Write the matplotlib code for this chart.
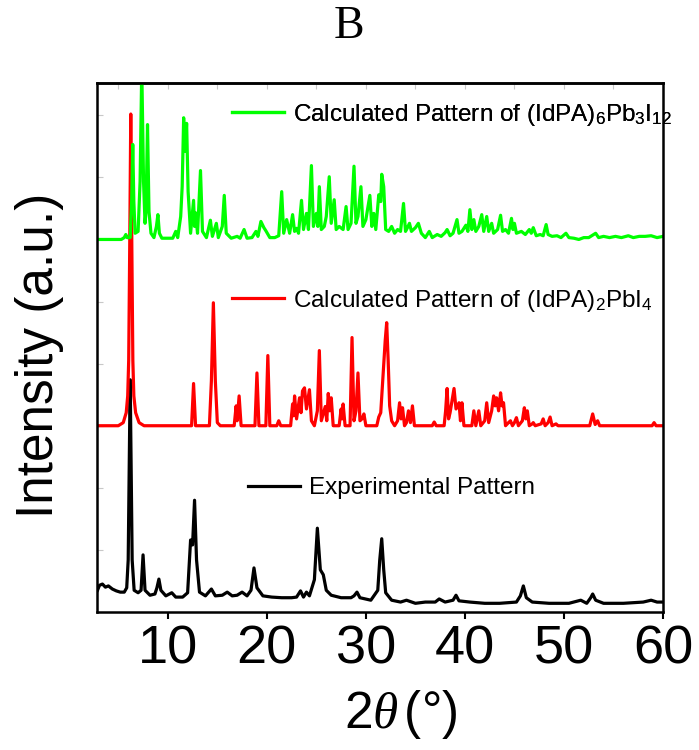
import numpy as np
import matplotlib
matplotlib.use("Agg")
import matplotlib.pyplot as plt
from matplotlib.lines import Line2D

plt.rcParams['font.family'] = ['Liberation Sans', 'DejaVu Sans']
plt.rcParams['mathtext.fontset'] = 'custom'
plt.rcParams['mathtext.rm'] = 'Liberation Sans'
plt.rcParams['mathtext.it'] = 'Liberation Serif:italic'

# ---------------- data (2theta in degrees, intensity in a.u., offsets included) -----------
black = [(2.9, 0.35), (3.1, 0.43), (3.4, 0.45), (3.7, 0.40), (4.0, 0.42), (4.4, 0.37), (4.8, 0.34),
         (5.2, 0.32), (5.6, 0.32), (5.85, 0.39), (6.0, 0.84), (6.1, 2.29), (6.2, 3.74), (6.3, 2.29),
         (6.4, 0.84), (6.6, 0.35), (7.0, 0.31), (7.3, 0.35), (7.5, 0.92), (7.7, 0.35), (8.2, 0.27),
         (8.7, 0.29), (8.9, 0.39), (9.1, 0.53), (9.3, 0.35), (9.8, 0.26), (10.4, 0.31), (10.8, 0.24),
         (11.5, 0.24), (12.0, 0.31), (12.3, 1.16), (12.5, 1.08), (12.7, 1.80), (12.9, 0.84), (13.2, 0.32),
         (13.8, 0.26), (14.4, 0.37), (14.8, 0.26), (15.5, 0.27), (16.0, 0.32), (16.5, 0.26), (17.0, 0.27),
         (17.5, 0.32), (18.0, 0.26), (18.4, 0.35), (18.7, 0.71), (19.0, 0.39), (19.6, 0.26), (20.5, 0.24),
         (21.5, 0.23), (22.5, 0.23), (23.0, 0.24), (23.4, 0.34), (23.7, 0.24), (24.0, 0.32), (24.3, 0.26),
         (24.8, 0.52), (25.1, 1.35), (25.4, 0.68), (25.7, 0.60), (26.0, 0.35), (26.5, 0.27), (27.5, 0.23),
         (28.5, 0.23), (28.8, 0.26), (29.1, 0.32), (29.4, 0.23), (30.5, 0.19), (31.2, 0.35), (31.4, 0.84),
         (31.6, 1.18), (31.8, 0.68), (32.0, 0.31), (32.6, 0.19), (33.5, 0.16), (34.1, 0.19), (35.0, 0.14),
         (36.0, 0.16), (37.0, 0.16), (37.4, 0.21), (38.0, 0.16), (38.8, 0.19), (39.1, 0.27), (39.4, 0.18),
         (40.5, 0.16), (42.0, 0.14), (43.5, 0.14), (45.2, 0.16), (45.6, 0.26), (45.9, 0.42), (46.2, 0.23),
         (46.8, 0.16), (48.5, 0.14), (50.5, 0.14), (51.7, 0.19), (52.3, 0.14), (52.7, 0.23), (52.9, 0.29),
         (53.2, 0.19), (54.0, 0.14), (56.0, 0.14), (58.0, 0.16), (58.8, 0.19), (59.4, 0.16), (60.0, 0.16)]

red = [(2.9, 3.00), (5.0, 3.00), (5.5, 3.05), (5.8, 3.21), (5.95, 3.48), (6.05, 4.05), (6.15, 5.82),
       (6.26, 8.02), (6.37, 5.82), (6.47, 4.05), (6.57, 3.48), (6.75, 3.21), (7.1, 3.05), (7.6, 3.00),
       (12.4, 3.00), (12.6, 3.68), (12.8, 3.00), (14.2, 3.00), (14.4, 3.72), (14.6, 4.98), (14.8, 3.72),
       (15.0, 3.05), (15.3, 3.00), (16.7, 3.00), (16.9, 3.32), (17.0, 3.08), (17.2, 3.48), (17.4, 3.00),
       (18.8, 3.00), (19.0, 3.85), (19.2, 3.00), (19.9, 3.00), (20.1, 4.13), (20.3, 3.00), (21.0, 3.00),
       (21.2, 3.08), (21.4, 3.00), (22.4, 3.00), (22.6, 3.35), (22.7, 3.16), (22.8, 3.48), (23.0, 3.11),
       (23.3, 3.45), (23.45, 3.21), (23.6, 3.56), (23.8, 3.61), (24.0, 3.27), (24.3, 3.58), (24.5, 3.08),
       (24.8, 3.00), (25.1, 3.24), (25.3, 4.21), (25.5, 3.08), (25.9, 3.31), (26.05, 3.08), (26.2, 3.52),
       (26.35, 3.24), (26.5, 3.45), (26.7, 3.00), (27.3, 3.00), (27.5, 3.27), (27.6, 3.11), (27.7, 3.35),
       (27.9, 3.00), (28.4, 3.00), (28.6, 4.42), (28.8, 3.08), (29.0, 3.24), (29.2, 3.85), (29.4, 3.08),
       (29.6, 3.11), (29.8, 3.19), (30.0, 3.00), (31.1, 3.00), (31.3, 3.14), (31.5, 3.21), (31.7, 3.72),
       (31.8, 3.97), (31.95, 4.37), (32.1, 4.66), (32.25, 4.05), (32.4, 3.32), (32.6, 3.08), (32.9, 3.00),
       (33.2, 3.08), (33.4, 3.37), (33.55, 3.11), (33.7, 3.29), (33.9, 3.00), (34.1, 3.05), (34.3, 3.24),
       (34.5, 3.05), (34.7, 3.32), (34.9, 3.00), (36.7, 3.00), (36.9, 3.06), (37.1, 3.00), (37.9, 3.00),
       (38.05, 3.24), (38.2, 3.60), (38.35, 3.11), (38.5, 3.21), (38.7, 3.40), (38.9, 3.60), (39.1, 3.27),
       (39.4, 3.37), (39.55, 3.08), (39.7, 3.37), (39.9, 3.00), (40.7, 3.00), (40.9, 3.24), (41.1, 3.00),
       (41.2, 3.08), (41.4, 3.24), (41.6, 3.00), (42.0, 3.08), (42.2, 3.37), (42.4, 3.05), (42.7, 3.24),
       (42.9, 3.48), (43.05, 3.32), (43.2, 3.45), (43.4, 3.24), (43.6, 3.53), (43.75, 3.32), (43.9, 3.37),
       (44.1, 3.00), (44.4, 3.05), (44.6, 3.08), (44.8, 3.00), (45.0, 3.05), (45.2, 3.13), (45.4, 3.00),
       (45.8, 3.08), (46.0, 3.29), (46.15, 3.11), (46.3, 3.24), (46.5, 3.00), (46.8, 3.03), (46.9, 3.05),
       (47.1, 3.00), (47.7, 3.03), (47.9, 3.11), (48.1, 3.00), (48.4, 3.05), (48.6, 3.14), (48.8, 3.00),
       (49.2, 3.03), (49.4, 3.00), (52.6, 3.00), (52.9, 3.19), (53.15, 3.02), (53.4, 3.08), (53.6, 3.00),
       (58.9, 3.00), (59.1, 3.05), (59.3, 3.00), (60.0, 3.00)]

green = [(2.9, 6.00), (5.3, 6.00), (5.6, 6.03), (5.76, 6.08), (5.9, 6.03), (6.2, 6.03), (6.35, 6.61),
         (6.46, 7.53), (6.57, 6.61), (6.7, 6.10), (7.0, 6.13), (7.2, 6.93), (7.37, 8.77), (7.55, 6.93),
         (7.7, 6.26), (7.8, 6.45), (7.95, 7.85), (8.1, 6.45), (8.3, 6.10), (8.6, 6.03), (8.85, 6.21),
         (9.0, 6.40), (9.15, 6.10), (9.4, 6.02), (10.5, 6.02), (10.8, 6.13), (11.0, 6.03), (11.3, 6.37),
         (11.45, 6.85), (11.6, 7.96), (11.75, 7.42), (11.9, 7.87), (12.05, 6.77), (12.3, 6.10), (12.6, 6.63),
         (12.7, 6.21), (12.8, 6.43), (13.0, 6.10), (13.3, 7.11), (13.5, 6.13), (13.9, 6.03), (14.3, 6.31),
         (14.5, 6.05), (14.9, 6.26), (15.1, 6.03), (15.5, 6.21), (15.7, 6.71), (15.9, 6.10), (16.4, 6.02),
         (17.0, 6.05), (17.3, 6.02), (17.7, 6.16), (18.0, 6.02), (18.5, 6.03), (18.9, 6.13), (19.1, 6.05),
         (19.4, 6.29), (19.7, 6.19), (19.9, 6.14), (20.3, 6.03), (20.8, 6.03), (21.2, 6.06), (21.5, 6.77),
         (21.7, 6.10), (22.0, 6.32), (22.3, 6.10), (22.6, 6.40), (22.8, 6.13), (23.0, 6.18), (23.2, 6.10),
         (23.5, 6.63), (23.7, 6.16), (24.0, 6.42), (24.2, 6.16), (24.5, 7.19), (24.7, 6.21), (25.0, 6.42),
         (25.15, 6.21), (25.3, 6.85), (25.5, 6.16), (25.8, 6.21), (26.0, 6.37), (26.3, 7.01), (26.5, 6.26),
         (26.8, 6.64), (27.0, 6.16), (27.3, 6.21), (27.7, 6.16), (28.0, 6.53), (28.2, 6.16), (28.5, 6.26),
         (28.8, 7.18), (29.0, 6.26), (29.2, 6.37), (29.5, 6.85), (29.7, 6.21), (30.0, 6.32), (30.4, 6.71),
         (30.6, 6.21), (30.8, 6.42), (31.0, 6.16), (31.3, 6.72), (31.5, 6.61), (31.6, 7.05), (31.8, 6.85),
         (32.0, 6.16), (32.3, 6.13), (32.6, 6.21), (32.9, 6.10), (33.2, 6.16), (33.5, 6.13), (33.8, 6.58),
         (34.0, 6.13), (34.2, 6.19), (34.4, 6.26), (34.6, 6.13), (35.0, 6.19), (35.3, 6.26), (35.6, 6.10),
         (36.0, 6.03), (36.4, 6.13), (36.7, 6.03), (37.2, 6.08), (37.6, 6.05), (38.0, 6.11), (38.2, 6.16),
         (38.5, 6.06), (38.8, 6.10), (39.2, 6.32), (39.4, 6.10), (39.7, 6.13), (40.1, 6.23), (40.3, 6.13),
         (40.5, 6.48), (40.7, 6.16), (40.9, 6.32), (41.1, 6.13), (41.4, 6.21), (41.7, 6.40), (41.9, 6.13),
         (42.2, 6.37), (42.4, 6.13), (42.7, 6.26), (42.9, 6.10), (43.3, 6.16), (43.6, 6.39), (43.8, 6.13),
         (44.1, 6.16), (44.4, 6.10), (44.7, 6.34), (44.85, 6.16), (45.0, 6.26), (45.2, 6.10), (45.7, 6.13),
         (46.1, 6.08), (46.5, 6.16), (46.7, 6.10), (46.9, 6.19), (47.2, 6.06), (47.6, 6.08), (47.9, 6.06),
         (48.2, 6.24), (48.4, 6.08), (48.8, 6.05), (49.3, 6.06), (49.7, 6.03), (50.2, 6.10), (50.5, 6.03),
         (51.0, 6.02), (51.5, 6.00), (52.0, 6.03), (52.5, 6.03), (53.2, 6.10), (53.5, 6.03), (54.0, 6.05),
         (54.6, 6.03), (55.2, 6.05), (55.8, 6.03), (56.5, 6.06), (57.0, 6.03), (57.6, 6.05), (58.2, 6.05),
         (58.8, 6.06), (59.4, 6.03), (60.0, 6.05)]

labels = ['Experimental Pattern',
          r'Calculated Pattern of (IdPA)$_2$PbI$_4$',
          r'Calculated Pattern of (IdPA)$_6$Pb$_3$I$_{12}$']
colors = ['#000000', '#ff0000', '#00ff00']
xticks = [10, 20, 30, 40, 50, 60]

# ---------------- figure ----------------
fig = plt.figure(figsize=(6.99, 7.5), dpi=100)
ax = fig.add_axes([97/699, 1 - 612/750, 566/699, 529/750])

series = [black, red, green]
for pts, c in zip(series, colors):
    arr = np.array(pts)
    ax.plot(arr[:, 0], arr[:, 1], color=c, lw=2.3, solid_joinstyle='round')

ax.set_xlim(2.85, 60)
ax.set_ylim(0, 8.52)
ax.set_xticks(xticks)
ax.set_xticklabels([str(t) for t in xticks], fontsize=39)
ax.tick_params(axis='x', direction='out', length=5, width=1.5, pad=4, top=False)
ax.set_yticks(np.arange(1, 9))
ax.tick_params(axis='y', direction='in', length=4, width=0.8, color='#c8c8c8', labelleft=False)
for s in ax.spines.values():
    s.set_linewidth(1.8)

top = ax.secondary_xaxis('top')
top.set_xticks(np.arange(5, 61, 5))
top.set_xticklabels([])
top.tick_params(direction='in', length=4, width=0.8, color='#c8c8c8')
top.spines['top'].set_linewidth(1.8)

ax.set_ylabel('Intensity (a.u.)', fontsize=37)
ax.yaxis.set_label_coords(-0.058, 0.486)
ax.set_xlabel(r'2$\theta\,$(°)', fontsize=37)
ax.xaxis.set_label_coords(0.537, -0.143)

# legends, one per trace
anchors = [(0.2668, 0.2344), (0.2385, 0.588), (0.2385, 0.9395)]
for lab, c, anc in zip(labels, colors, anchors):
    h = Line2D([], [], color=c, lw=2.3)
    lg = ax.legend([h], [lab], loc='center left', bbox_to_anchor=anc, frameon=False,
                   fontsize=17.5, handlelength=2.15, handletextpad=0.35, borderpad=0,
                   borderaxespad=0)
    ax.add_artist(lg)

fig.text(349/699, 1 - 27/750, 'B', ha='center', va='center', fontsize=33,
         family='Liberation Serif')

fig.savefig('out.png', dpi=100)
